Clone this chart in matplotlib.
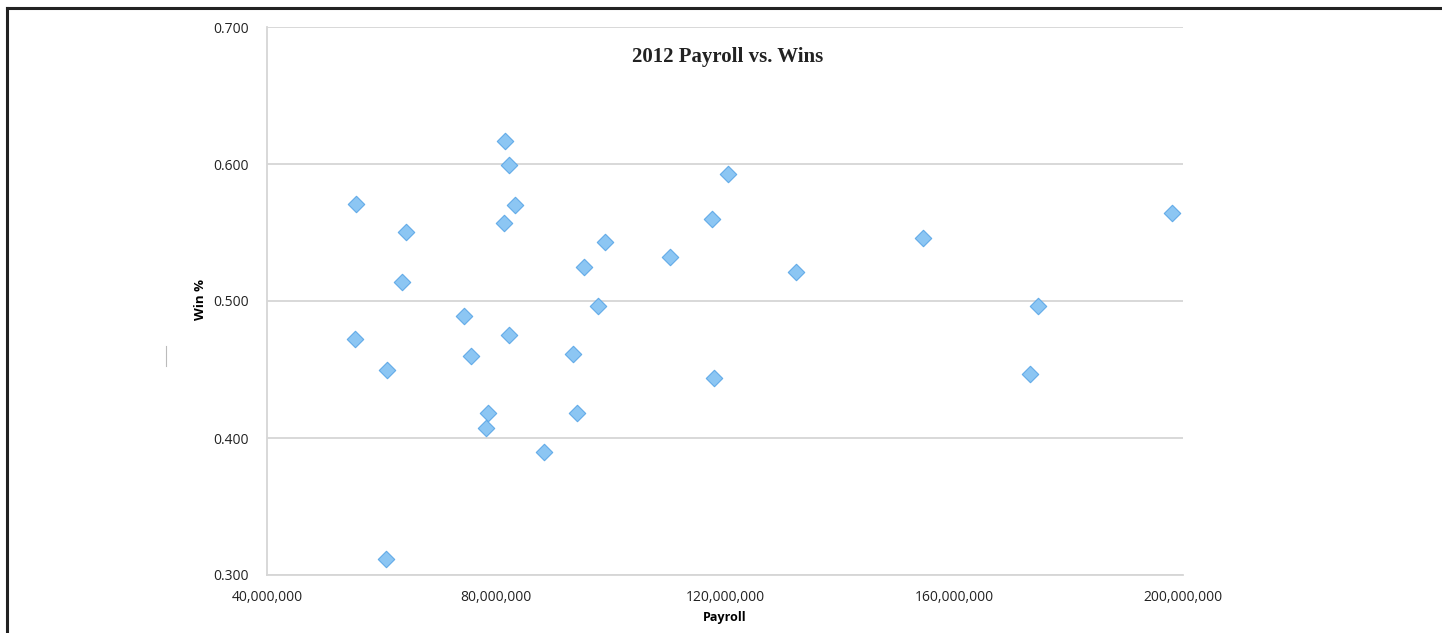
import matplotlib
matplotlib.use("Agg")
import matplotlib.pyplot as plt
from matplotlib.lines import Line2D
from matplotlib.ticker import FuncFormatter

# 2012 payroll (millions of dollars) and win percentage, one per team
payroll_m = [55.5, 81.5, 82.3, 83.4, 81.4, 64.3, 99.0, 95.3, 63.6, 97.8,
             74.4, 55.4, 82.2, 75.6, 93.4, 61.0, 78.6, 94.2, 78.2, 88.4,
             60.8, 120.6, 117.7, 198.1, 154.5, 132.4, 174.6, 118.1, 173.2, 110.4]
win_pct = [0.571, 0.617, 0.599, 0.570, 0.557, 0.550, 0.543, 0.525, 0.514, 0.496,
           0.489, 0.472, 0.475, 0.460, 0.461, 0.450, 0.418, 0.418, 0.407, 0.390,
           0.312, 0.593, 0.560, 0.564, 0.546, 0.521, 0.496, 0.444, 0.447, 0.532]

x_ticks = [40e6, 80e6, 120e6, 160e6, 200e6]
y_ticks = [0.300, 0.400, 0.500, 0.600, 0.700]

payroll = [p * 1e6 for p in payroll_m]

fig = plt.figure(figsize=(14.42, 6.33), dpi=100)
ax = fig.add_axes([267 / 1442, 58 / 633, 916 / 1442, 548 / 633])

ax.scatter(payroll, win_pct, marker="D", s=70, color="#8cc6f3",
           edgecolors="#62abe8", linewidths=0.8, zorder=3)

ax.set_xlim(40e6, 200e6)
ax.set_ylim(0.3, 0.7)
ax.set_xticks(x_ticks)
ax.set_yticks(y_ticks)
ax.xaxis.set_major_formatter(FuncFormatter(lambda v, p: f"{v:,.0f}"))
ax.yaxis.set_major_formatter(FuncFormatter(lambda v, p: f"{v:.3f}"))
ax.tick_params(length=0, labelsize=10, labelcolor="#222222")
ax.tick_params(axis="y", pad=13)
ax.tick_params(axis="x", pad=11)
for lab in ax.get_xticklabels() + ax.get_yticklabels():
    lab.set_family("Open Sans")

ax.grid(axis="y", color="#d6d6d6", linewidth=1.3)
ax.set_axisbelow(True)
for side in ["top", "right"]:
    ax.spines[side].set_visible(False)
for side in ["left", "bottom"]:
    ax.spines[side].set_color("#d6d6d6")
    ax.spines[side].set_linewidth(1.3)

ax.text(0.503, 0.945, "2012 Payroll vs. Wins", transform=ax.transAxes,
        ha="center", va="center", fontsize=15, fontweight="bold",
        family="Liberation Serif", color="#222222")

fig.text(200 / 1442, 1 - 300 / 633, "Win %", rotation=90, ha="center",
         va="center", fontsize=9.5, fontweight="bold", family="Open Sans")
fig.text(725 / 1442, 1 - 618 / 633, "Payroll", ha="center", va="center",
         fontsize=9, fontweight="bold", family="Open Sans")

# outer frame (top and left edges visible)
fig.add_artist(Line2D([6.5 / 1442, 1], [1 - 7.5 / 633, 1 - 7.5 / 633],
                      color="#222222", linewidth=2.2))
fig.add_artist(Line2D([6.5 / 1442, 6.5 / 1442], [0, 1 - 7.5 / 633],
                      color="#222222", linewidth=2.2))
fig.add_artist(Line2D([166 / 1442, 166 / 1442], [1 - 346 / 633, 1 - 366 / 633],
                      color="#bbbbbb", linewidth=0.8))

fig.savefig("out.png", dpi=100)
